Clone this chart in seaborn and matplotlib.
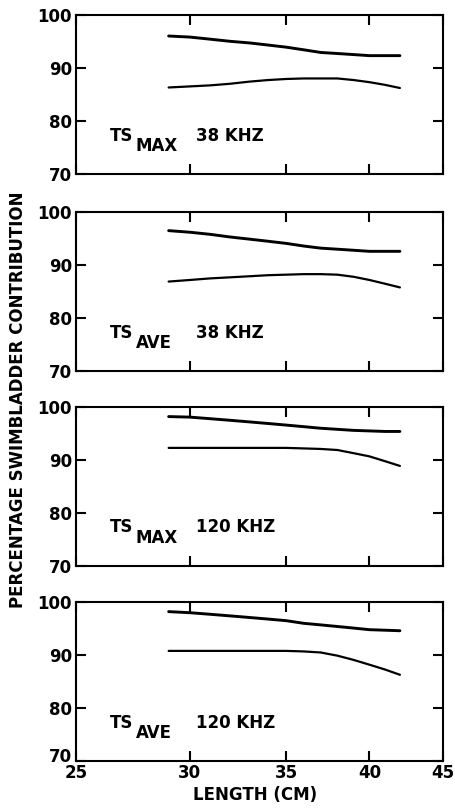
import matplotlib
matplotlib.use("Agg")
import matplotlib.pyplot as plt
import matplotlib.transforms as mtransforms
from matplotlib.ticker import FixedLocator, FixedFormatter, NullLocator
import seaborn as sns
import pandas as pd

# fish length (cm), same for every curve
length = [29, 30, 31, 32, 33, 34, 35, 36, 37, 38, 39, 40, 41, 42]

# upper / lower curves per panel
max38_upper = [96.0, 95.8, 95.4, 95.0, 94.7, 94.3, 93.9, 93.4, 92.9, 92.7, 92.5, 92.3, 92.3, 92.3]
max38_lower = [86.3, 86.5, 86.7, 87.0, 87.4, 87.7, 87.9, 88.0, 88.0, 88.0, 87.7, 87.3, 86.8, 86.2]
ave38_upper = [96.4, 96.1, 95.7, 95.2, 94.8, 94.4, 94.0, 93.5, 93.1, 92.9, 92.7, 92.5, 92.5, 92.5]
ave38_lower = [86.8, 87.1, 87.4, 87.6, 87.8, 88.0, 88.1, 88.2, 88.2, 88.1, 87.7, 87.1, 86.4, 85.7]
max120_upper = [98.1, 98.0, 97.7, 97.4, 97.1, 96.8, 96.5, 96.2, 95.9, 95.7, 95.5, 95.4, 95.3, 95.3]
max120_lower = [92.2, 92.2, 92.2, 92.2, 92.2, 92.2, 92.2, 92.1, 92.0, 91.8, 91.2, 90.6, 89.7, 88.8]
ave120_upper = [98.1, 97.9, 97.6, 97.3, 97.0, 96.7, 96.4, 95.9, 95.6, 95.3, 95.0, 94.7, 94.6, 94.5]
ave120_lower = [90.7, 90.7, 90.7, 90.7, 90.7, 90.7, 90.7, 90.6, 90.4, 89.8, 89.0, 88.1, 87.2, 86.2]

panel_ts = ["MAX", "AVE", "MAX", "AVE"]
panel_freq = ["38 KHZ", "38 KHZ", "120 KHZ", "120 KHZ"]
panel_upper = [max38_upper, ave38_upper, max120_upper, ave120_upper]
panel_lower = [max38_lower, ave38_lower, max120_lower, ave120_lower]

x_ticks = [25, 30, 35, 40, 45]
y_ticks = [70, 80, 90, 100]

sns.set_style("ticks")
plt.rcParams["font.family"] = ["DejaVu Sans"]
plt.rcParams["font.weight"] = "bold"
plt.rcParams["text.color"] = "black"
plt.rcParams["axes.edgecolor"] = "black"
plt.rcParams["xtick.color"] = "black"
plt.rcParams["ytick.color"] = "black"
plt.rcParams["xtick.labelcolor"] = "black"
plt.rcParams["ytick.labelcolor"] = "black"

fig = plt.figure(figsize=(4.55, 8.08), dpi=100)
bottoms = [0.7847, 0.5412, 0.2999, 0.0585]
axes = [fig.add_axes([0.167, b, 0.8066, 0.197]) for b in bottoms]

for i, ax in enumerate(axes):
    df = pd.DataFrame({"length": length,
                       "upper": panel_upper[i],
                       "lower": panel_lower[i]})
    sns.lineplot(data=df, x="length", y="upper", ax=ax, color="black", lw=2.1)
    sns.lineplot(data=df, x="length", y="lower", ax=ax, color="black", lw=1.6)

    ax.set_xscale("log")
    ax.set_xlim(25, 45)
    ax.set_ylim(70, 100)
    ax.xaxis.set_major_locator(FixedLocator(x_ticks))
    ax.xaxis.set_minor_locator(NullLocator())
    ax.yaxis.set_major_locator(FixedLocator(y_ticks))
    ax.yaxis.set_minor_locator(NullLocator())
    ax.set_xlabel("")
    ax.set_ylabel("")
    for sp in ax.spines.values():
        sp.set_linewidth(1.5)
        sp.set_color("black")
        sp.set_visible(True)
    ax.tick_params(direction="in", top=True, right=True, length=7,
                   width=1.5, labelsize=12, pad=3, colors="black")
    ax.set_yticklabels([str(v) for v in y_ticks])
    if i < 3:
        ax.set_xticklabels([])
    else:
        ax.xaxis.set_major_formatter(FixedFormatter([str(v) for v in x_ticks]))
        ax.tick_params(axis="x", pad=2)
        # lift the corner "70" a little, like the original
        lbl = ax.get_yticklabels()[0]
        lbl.set_transform(lbl.get_transform() +
                          mtransforms.ScaledTranslation(0, 4 / 72, fig.dpi_scale_trans))

    # "TS" with subscript, then frequency
    ax.text(0.093, 0.24, "TS", transform=ax.transAxes, fontsize=12,
            va="center", ha="left")
    ax.text(0.163, 0.175, panel_ts[i], transform=ax.transAxes, fontsize=12,
            va="center", ha="left")
    ax.text(0.327, 0.24, panel_freq[i], transform=ax.transAxes, fontsize=12,
            va="center", ha="left")

fig.text(0.04, 0.505, "PERCENTAGE SWIMBLADDER CONTRIBUTION", rotation=90,
         ha="center", va="center", fontsize=12)
fig.text(0.56, 0.016, "LENGTH (CM)", ha="center", va="center", fontsize=12)

fig.savefig("out.png", dpi=100)
